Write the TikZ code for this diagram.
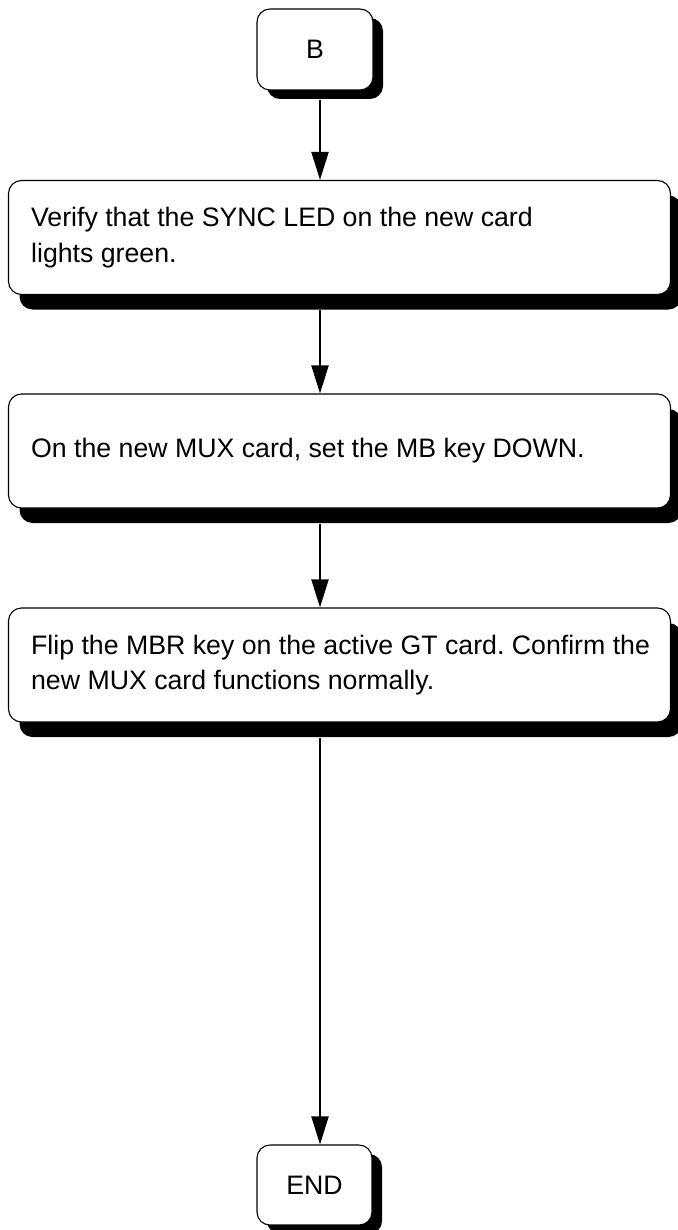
\documentclass[tikz,border=0pt]{standalone}
\usepackage{fontspec}
\setmainfont{Liberation Sans}
\usetikzlibrary{shadows,arrows.meta}
\frenchspacing
\begin{document}
\begin{tikzpicture}[x=1pt,y=-1pt,
  smallbox/.style={draw=black, line width=1.1pt, fill=white, rounded corners=13pt,
    minimum width=116pt, minimum height=81pt, inner sep=0pt,
    drop shadow={shadow xshift=10pt, shadow yshift=-9pt, fill=black, opacity=1},
    font=\fontsize{26.7pt}{35pt}\selectfont},
  bigbox/.style={draw=black, line width=1.1pt, fill=white, rounded corners=13pt,
    minimum width=662pt, minimum height=114pt, inner sep=0pt,
    drop shadow={shadow xshift=11pt, shadow yshift=-15pt, fill=black, opacity=1}},
  boxtext/.style={anchor=west, align=left, inner sep=0pt,
    font=\fontsize{26.7pt}{35.5pt}\selectfont},
  arr/.style={line width=2pt, -{Triangle[length=28pt,width=17pt]}}
]
\useasboundingbox (0,0) rectangle (677,1230);
\coordinate (axis) at (320,0);

\node[smallbox] (nB) at (315,49.5) {B};
\node[bigbox] (n1) at (339.5,237.5) {};
\node[boxtext] (t1) at ([xshift=23pt]n1.west) {Verify that the SYNC LED on the new card\\lights green.};
\node[bigbox] (n2) at (339.5,451) {};
\node[boxtext] (t2) at ([xshift=23pt]n2.west) {On the new MUX card, set the MB key DOWN.};
\node[bigbox] (n3) at (339.5,665) {};
\node[boxtext] (t3) at ([xshift=23pt]n3.west) {Flip the MBR key on the active GT card. Confirm the\\new MUX card functions normally.};
\node[smallbox, minimum height=80pt, minimum width=115pt] (nE) at (314.5,1185) {END};

\draw[arr] ([yshift=-9pt]nB.south -| axis) -- (n1.north -| axis);
\draw[arr] ([yshift=-15pt]n1.south -| axis) -- (n2.north -| axis);
\draw[arr] ([yshift=-15pt]n2.south -| axis) -- (n3.north -| axis);
\draw[arr] ([yshift=-15pt]n3.south -| axis) -- (nE.north -| axis);
\end{tikzpicture}
\end{document}
